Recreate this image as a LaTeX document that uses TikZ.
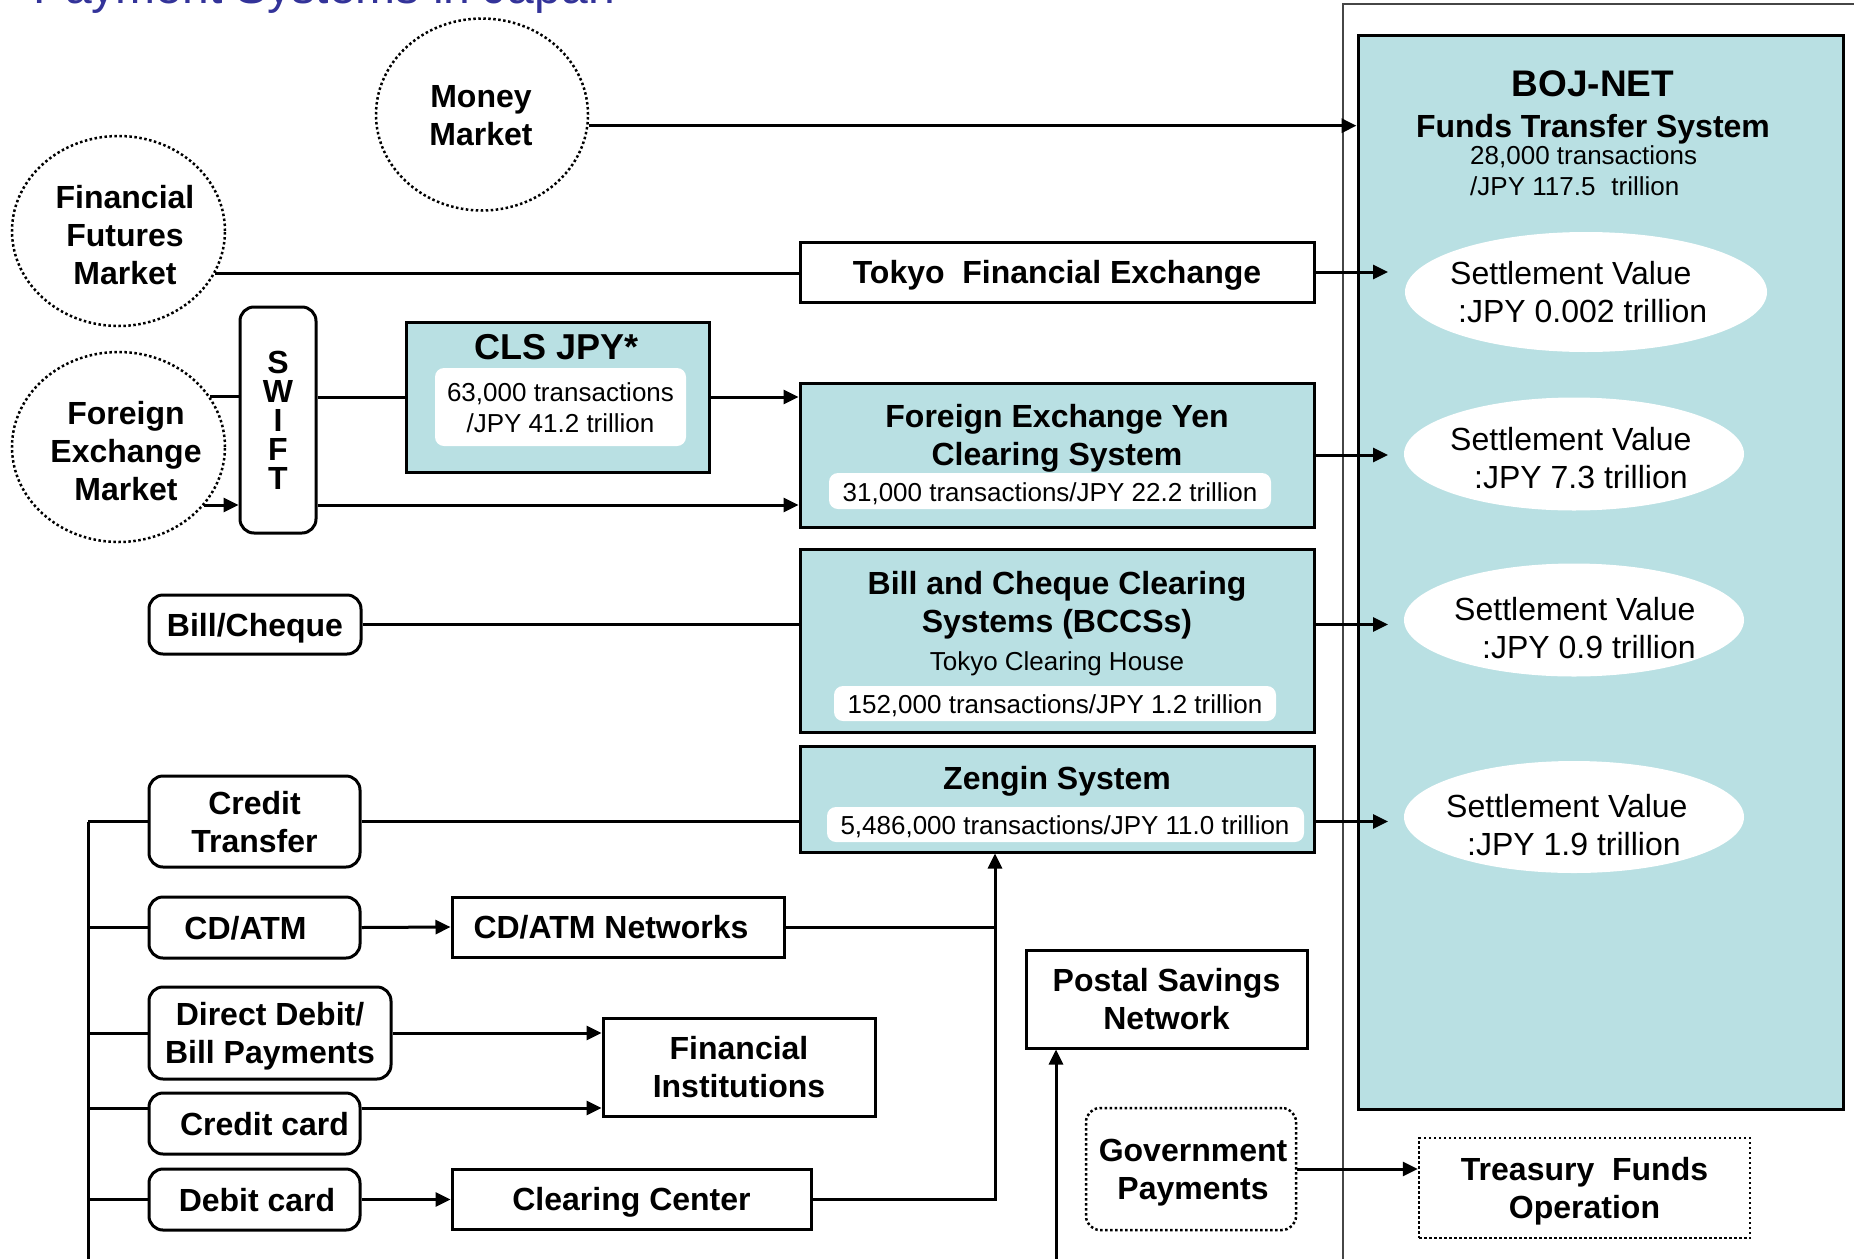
\documentclass[tikz,border=0pt]{standalone}
\usepackage{fontspec}
\setmainfont{Liberation Sans}
\usetikzlibrary{shapes.geometric,arrows.meta}
\definecolor{tealc}{RGB}{185,224,227}
\definecolor{titleblue}{RGB}{51,51,153}
\definecolor{outerc}{RGB}{70,70,70}
\begin{document}
\begin{tikzpicture}[x=1pt,y=-1pt,
  ln/.style={line width=3pt},
  arr/.style={line width=3pt,-{Triangle[length=15pt,width=14pt]}},
  fb/.style={font=\fontsize{32}{38}\selectfont\bfseries},
  fr/.style={font=\fontsize{26}{31}\selectfont},
  fs/.style={font=\fontsize{32}{38}\selectfont},
  mkt/.style={ellipse,draw,line width=2.5pt,dash pattern=on 2.5pt off 2.5pt,inner sep=0pt},
  pbox/.style={rectangle,draw,line width=3pt,inner sep=0pt,align=center,fb,text depth=0pt},
  rbox/.style={pbox,rounded corners=14pt},
  tbox/.style={pbox,fill=tealc},
  wbox/.style={rectangle,rounded corners=9pt,fill=white,inner sep=0pt},
  sv/.style={ellipse,fill=white,inner sep=0pt},
  dbox/.style={pbox,line width=2.5pt,dash pattern=on 2.5pt off 2.5pt},
  txt/.style={inner sep=0pt,align=center,text depth=0pt},
  ltxt/.style={inner sep=0pt,align=left,text depth=0pt,anchor=west}
]
\useasboundingbox (0,0) rectangle (1854,1258);

% title (cut off at the top)
\node[anchor=base west,inner sep=0pt,text=titleblue,font=\fontsize{48}{58}\selectfont] (title) at (33,4) {Payment Systems in Japan};

% BOJ-NET frame and box
\draw[line width=2pt,outerc] (1870,4) -- (1343,4) -- (1343,1270);
\node[tbox,minimum width=485pt,minimum height=1074pt] (boj) at (1600.5,572) {};
\node[txt,font=\fontsize{37}{44}\selectfont\bfseries] (bojt) at (1593,84) {BOJ-NET};
\node[txt,fb] (bojs) at (1593,126) {Funds Transfer System};
\node[ltxt,fr] (bojv) at (1470,171) {28,000 transactions\\/JPY 117.5\hspace*{16pt}trillion};

% settlement ellipses
\node[sv,minimum width=362pt,minimum height=120pt] (e1) at (1586,292) {};
\node[ltxt,fs] (e1t) at (1450,292) {Settlement Value\\\hspace*{8pt}:JPY 0.002 trillion};
\node[sv,minimum width=340pt,minimum height=113pt] (e2) at (1574,454) {};
\node[ltxt,fs] (e2t) at (1450,458) {Settlement Value\\\hspace*{24pt}:JPY 7.3 trillion};
\node[sv,minimum width=340pt,minimum height=113pt] (e3) at (1574,620) {};
\node[ltxt,fs] (e3t) at (1454,628) {Settlement Value\\\hspace*{28pt}:JPY 0.9 trillion};
\node[sv,minimum width=340pt,minimum height=112pt] (e4) at (1574,817) {};
\node[ltxt,fs] (e4t) at (1446,825) {Settlement Value\\\hspace*{21pt}:JPY 1.9 trillion};

% markets
\node[mkt,minimum width=212pt,minimum height=192pt] (money) at (482,114.5) {};
\node[txt,fb] (moneyt) at (481,115) {Money\\Market};
\node[mkt,minimum width=213pt,minimum height=190pt] (ffm) at (118.5,231) {};
\node[txt,fb] (ffmt) at (125,235) {Financial\\Futures\\Market};
\node[mkt,minimum width=213pt,minimum height=190pt] (fxm) at (118.5,447) {};
\node[txt,fb] (fxmt) at (126,451) {Foreign\\Exchange\\Market};

% SWIFT
\node[rbox,minimum width=76pt,minimum height=226pt,font=\fontsize{32}{29}\selectfont\bfseries] (swift) at (278,420) {S\\W\\I\\F\\T};

% CLS
\node[tbox,minimum width=303pt,minimum height=150pt] (cls) at (557.5,397) {};
\node[txt,font=\fontsize{36}{43}\selectfont\bfseries] (clst) at (557,347) {CLS JPY*};
\node[wbox,minimum width=251pt,minimum height=78pt] (clsw) at (560.5,407) {};
\node[txt,fr] (clsv) at (560.5,408) {63,000 transactions\\/JPY 41.2 trillion};

% Tokyo Financial Exchange
\node[pbox,minimum width=514pt,minimum height=60pt] (tfe) at (1057,272) {Tokyo\ \ Financial Exchange};

% FX Yen clearing
\node[tbox,minimum width=514pt,minimum height=144pt] (fxy) at (1057,455) {};
\node[txt,fb] (fxyt) at (1057,435) {Foreign Exchange Yen\\Clearing System};
\node[wbox,minimum width=442pt,minimum height=36pt] (fxyw) at (1050,491) {};
\node[txt,fr] (fxyv) at (1050,492) {31,000 transactions/JPY 22.2 trillion};

% BCCS
\node[tbox,minimum width=514pt,minimum height=183pt] (bccs) at (1057,640.5) {};
\node[txt,fb] (bccst) at (1057,602) {Bill and Cheque Clearing\\Systems (BCCSs)};
\node[txt,fr] (bccsh) at (1057,661) {Tokyo Clearing House};
\node[wbox,minimum width=442pt,minimum height=35pt] (bccsw) at (1055,703.5) {};
\node[txt,fr] (bccsv) at (1055,704) {152,000 transactions/JPY 1.2 trillion};

% Zengin
\node[tbox,minimum width=514pt,minimum height=106pt] (zen) at (1057,799) {};
\node[txt,fb] (zent) at (1057,778) {Zengin System};
\node[wbox,minimum width=477pt,minimum height=35pt] (zenw) at (1065.5,824.5) {};
\node[txt,fr] (zenv) at (1065,825) {5,486,000 transactions/JPY 11.0 trillion};

% left boxes
\node[rbox,minimum width=212pt,minimum height=59pt] (bill) at (255,624.5) {Bill/Cheque};
\node[rbox,minimum width=211pt,minimum height=91pt] (ct) at (254.5,821.5) {Credit\\Transfer};
\node[rbox,minimum width=211pt,minimum height=61pt] (cdatm) at (254.5,927.5) {CD/ATM\hspace*{18pt}};
\node[rbox,minimum width=242pt,minimum height=92pt] (ddbp) at (270,1033) {Direct Debit/\\Bill Payments};
\node[rbox,minimum width=211pt,minimum height=61pt] (ccard) at (254.5,1123.5) {\hspace*{20pt}Credit card};
\node[rbox,minimum width=211pt,minimum height=61pt] (dcard) at (254.5,1199.5) {\hspace*{5pt}Debit card};

\node[pbox,minimum width=332pt,minimum height=60pt] (atmnet) at (618,927) {CD/ATM Networks\hspace*{14pt}};
\node[pbox,minimum width=272pt,minimum height=98pt] (fi) at (739,1067) {Financial\\Institutions};
\node[pbox,minimum width=359pt,minimum height=60pt] (clc) at (631.5,1199) {Clearing Center};
\node[pbox,minimum width=281pt,minimum height=98pt] (postal) at (1166.5,999) {Postal Savings\\Network};
\node[dbox,rounded corners=14pt,minimum width=210pt,minimum height=122pt] (gov) at (1191,1169) {\hspace*{4pt}Government\\\hspace*{4pt}Payments};
\node[dbox,minimum width=331pt,minimum height=100pt] (treas) at (1584.5,1188) {Treasury\ \ Funds\\Operation};

% helper coordinates
\coordinate (tipx) at (1388,0);
\coordinate (vx) at (995,1199);
\coordinate (ccy) at (0,1108);
\coordinate (busT) at (88,821.5);
\coordinate (busB) at (88,1270);
\coordinate (pb) at (1056,1270);
\coordinate (mA) at (money.-6);
\coordinate (ffA) at (ffm.-24);
\coordinate (fxb) at (fxm.29);
\coordinate (fxa) at (fxm.-34);

% connectors
\draw[arr] (mA) -- (mA -| boj.west);
\draw[ln] (ffA) -- (ffA -| tfe.west);
\draw[arr] (tfe.east) -- (tfe.east -| tipx);
\draw[ln] (fxb) -- (fxb -| swift.west);
\draw[ln] (swift.east |- cls.west) -- (cls.west);
\draw[arr] (cls.east) -- (cls.east -| fxy.west);
\draw[arr] (fxa) -- (fxa -| swift.west);
\draw[arr] (swift.east |- fxa) -- (fxa -| fxy.west);
\draw[arr] (fxy.east) -- (fxy.east -| tipx);
\draw[ln] (bill.east) -- (bill.east -| bccs.west);
\draw[arr] (bill.east -| bccs.east) -- (bill.east -| tipx);
\draw[ln] (ct.east) -- (ct.east -| zen.west);
\draw[arr] (ct.east -| zen.east) -- (ct.east -| tipx);
\draw[arr] (cdatm.east) -- (atmnet.west);
\draw[ln] (atmnet.east) -- (atmnet.east -| vx);
\draw[arr] (ddbp.east) -- (ddbp.east -| fi.west);
\draw[arr] (ccard.east |- ccy) -- (fi.west |- ccy);
\draw[arr] (dcard.east) -- (dcard.east -| clc.west);
\draw[arr] (clc.east) -- (vx) -- (vx |- zen.south);
\draw[ln] (busT) -- (busB);
\draw[ln] (busT) -- (ct.west);
\draw[ln] (busT |- cdatm.west) -- (cdatm.west);
\draw[ln] (busT |- ddbp.west) -- (ddbp.west);
\draw[ln] (busT |- ccy) -- (ccard.west |- ccy);
\draw[ln] (busT |- dcard.west) -- (dcard.west);
\draw[arr] (pb) -- (pb |- postal.south);
\draw[arr] (gov.east) -- (gov.east -| treas.west);
\end{tikzpicture}
\end{document}
